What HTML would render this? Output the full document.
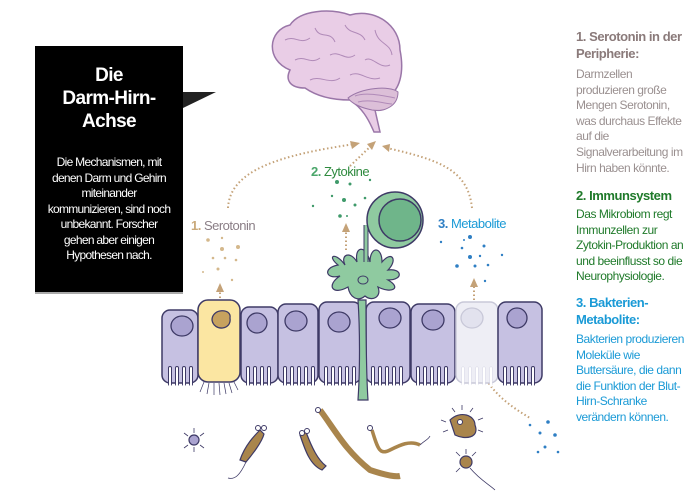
<!DOCTYPE html>
<html><head><meta charset="utf-8"><style>
html,body{margin:0;padding:0;background:#fff;}
body{width:700px;height:504px;position:relative;overflow:hidden;font-family:"Liberation Sans",sans-serif;}
.t{position:absolute;white-space:nowrap;letter-spacing:-0.5px;}
.box{position:absolute;left:35px;top:46px;width:148px;height:246px;background:#000;color:#fff;text-align:center;}
.box h1{margin:18px 0 0;font-size:19px;line-height:23px;font-weight:bold;letter-spacing:-0.6px;}
.box p{margin:22px 0 0;font-size:12px;line-height:15.5px;letter-spacing:-0.7px;}
.r{position:absolute;left:576px;font-size:12px;line-height:15.6px;letter-spacing:-0.45px;white-space:nowrap;}
.r b{font-size:13px;}
</style></head><body>
<div class="box"><h1>Die<br>Darm-Hirn-<br>Achse</h1><p>Die Mechanismen, mit<br>denen Darm und Gehirn<br>miteinander<br>kommunizieren, sind noch<br>unbekannt. Forscher<br>gehen aber einigen<br>Hypothesen nach.</p></div>
<svg style="position:absolute;left:0;top:0" width="700" height="504">
<polygon points="183,92 216,92 183,108" fill="#222"/>
<line x1="35" y1="293" x2="183" y2="293" stroke="#555" stroke-width="1"/>
<!-- brain -->
<path d="M290,70 C265,60 268,30 290,25 C300,10 330,8 350,15 C375,8 400,25 400,50 C405,75 398,90 390,95 C395,105 385,112 375,110 L380,132 L374,132 C368,118 362,108 350,100 C330,100 315,95 305,88 C290,88 285,80 290,70 Z" fill="#e9cde6" stroke="#9a76a8" stroke-width="1.5"/>
<path d="M348,98 C360,88 390,85 398,92 C398,106 385,112 372,110 C362,108 352,104 348,98Z" fill="#dcbfd8" stroke="#9a76a8" stroke-width="1"/>
<g fill="none" stroke="#b08ab8" stroke-width="1">
<path d="M285,40 C295,35 300,45 310,38 M315,28 C320,40 330,30 335,42 M345,25 C350,35 360,30 365,40 M375,30 C378,45 390,42 392,55 M295,60 C305,55 310,65 320,58 M330,55 C340,50 345,62 355,55 M365,60 C372,55 380,70 390,65 M310,80 C320,75 330,85 340,78 M350,75 C360,70 368,82 380,78 M355,96 C365,92 380,95 395,98 M358,102 C370,99 382,103 392,104"/>
</g>
<!-- arrows -->
<g fill="none" stroke="#c4a278" stroke-width="2" stroke-dasharray="1.5 2.5">
<path d="M228,208 C230,170 280,155 355,144"/>
<path d="M350,166 L372,145"/>
<path d="M472,208 C468,170 440,160 387,148"/>
<path d="M220,310 L220,290"/>
<path d="M346,250 L346,230"/>
<path d="M474,330 C474,380 500,400 530,418"/>
<path d="M474,300 L474,285"/>
</g>
<g fill="#c4a278">
<polygon points="360,143 350,141 352,149"/><polygon points="376,141 367,144 372,150"/><polygon points="382,146 390,144 389,152"/>
<polygon points="220,283 216,292 224,292"/><polygon points="346,223 342,232 350,232"/><polygon points="474,278 470,287 478,287"/>
</g>
<!-- dots -->
<g fill="#d4b88c"><circle cx="208" cy="240" r="1.8"/><circle cx="222" cy="238" r="1.2"/><circle cx="238" cy="247" r="2"/><circle cx="222" cy="249" r="2"/><circle cx="213" cy="258" r="1.3"/><circle cx="225" cy="258" r="1.3"/><circle cx="236" cy="260" r="1.3"/><circle cx="218" cy="269" r="1.5"/><circle cx="203" cy="272" r="1"/><circle cx="232" cy="280" r="1.2"/></g>
<g fill="#3f9a6a"><circle cx="337" cy="182" r="2"/><circle cx="350" cy="184" r="1.5"/><circle cx="370" cy="180" r="1.2"/><circle cx="332" cy="196" r="1.2"/><circle cx="344" cy="200" r="2"/><circle cx="355" cy="205" r="1.5"/><circle cx="313" cy="206" r="1.2"/><circle cx="340" cy="216" r="1.8"/><circle cx="347" cy="216" r="1"/><circle cx="365" cy="198" r="1.3"/></g>
<g fill="#2f7fc4"><circle cx="441" cy="242" r="1.2"/><circle cx="470" cy="237" r="2"/><circle cx="464" cy="240" r="1"/><circle cx="462" cy="248" r="1.3"/><circle cx="484" cy="246" r="1.5"/><circle cx="470" cy="257" r="2"/><circle cx="480" cy="256" r="1.2"/><circle cx="457" cy="266" r="1.8"/><circle cx="475" cy="266" r="1.5"/><circle cx="488" cy="265" r="1.3"/><circle cx="502" cy="255" r="1.2"/><circle cx="485" cy="281" r="1.2"/>
<circle cx="530" cy="425" r="1.3"/><circle cx="548" cy="422" r="1.8"/><circle cx="540" cy="433" r="1.5"/><circle cx="555" cy="435" r="1.8"/><circle cx="545" cy="447" r="1.5"/><circle cx="538" cy="452" r="1.3"/><circle cx="558" cy="452" r="1.3"/></g>
<!-- yellow cell hairs -->
<g stroke="#3e3a66" stroke-width="0.7"><path d="M204,382 L200,392 M209,383 L207,394 M214,383 L214,395 M219,383 L220,395 M224,383 L226,394 M229,383 L232,393 M234,382 L238,390"/></g>
<!-- cells -->
<g stroke="#3e3a66" stroke-width="1.5">
<rect x="162" y="310" width="36" height="73" rx="8" fill="#c6c1e2"/>
<rect x="198" y="300" width="42" height="82" rx="10" fill="#fbe6a2"/>
<rect x="241" y="307" width="37" height="76" rx="8" fill="#c6c1e2"/>
<rect x="278" y="304" width="40" height="79" rx="8" fill="#c6c1e2"/>
<rect x="319" y="302" width="42" height="81" rx="8" fill="#c6c1e2"/>
<rect x="366" y="302" width="44" height="81" rx="8" fill="#c6c1e2"/>
<rect x="411" y="304" width="44" height="79" rx="8" fill="#c6c1e2"/>
<rect x="456" y="302" width="42" height="81" rx="8" fill="#eeeef5" stroke="#c8c8d8"/>
<rect x="498" y="302" width="44" height="81" rx="8" fill="#c6c1e2"/>
</g>
<g fill="#c6c1e2"><rect x="163" y="365" width="34" height="12"/><rect x="242" y="365" width="35" height="12"/><rect x="279" y="365" width="38" height="12"/><rect x="320" y="365" width="40" height="12"/><rect x="367" y="365" width="42" height="12"/><rect x="412" y="365" width="42" height="12"/><rect x="499" y="365" width="42" height="12"/></g>
<g stroke-linecap="round">
<g stroke="#3e3a66" stroke-width="4">
<path d="M170,368V384M177,368V384M184,368V384M191,368V384 M248,368V384M255,368V384M262,368V384M269,368V384 M285,368V384M292,368V384M299,368V384M306,368V384M313,368V384 M326,368V384M333,368V384M340,368V384M347,368V384M354,368V384 M373,368V384M380,368V384M387,368V384M394,368V384M401,368V384 M418,368V384M425,368V384M432,368V384M439,368V384M446,368V384 M505,368V384M512,368V384M519,368V384M526,368V384M533,368V384"/>
</g>
<g stroke="#d8d8e6" stroke-width="3"><path d="M463,368V384M470,368V384M477,368V384M484,368V384M491,368V384"/></g>
<g stroke="#fff" stroke-width="2">
<path d="M170,368V386M177,368V386M184,368V386M191,368V386 M248,368V386M255,368V386M262,368V386M269,368V386 M285,368V386M292,368V386M299,368V386M306,368V386M313,368V386 M326,368V386M333,368V386M340,368V386M347,368V386M354,368V386 M373,368V386M380,368V386M387,368V386M394,368V386M401,368V386 M418,368V386M425,368V386M432,368V386M439,368V386M446,368V386 M505,368V386M512,368V386M519,368V386M526,368V386M533,368V386 M463,368V386M470,368V386M477,368V386M484,368V386M491,368V386"/>
</g>
</g>
<g fill="#aaa3d0" stroke="#3e3a66" stroke-width="1.3">
<ellipse cx="182" cy="326" rx="11" ry="10"/><ellipse cx="257" cy="323" rx="10" ry="10"/><ellipse cx="296" cy="321" rx="11" ry="10"/><ellipse cx="339" cy="322" rx="11" ry="10"/><ellipse cx="390" cy="318" rx="11" ry="10"/><ellipse cx="433" cy="320" rx="11" ry="10"/><ellipse cx="517" cy="318" rx="10" ry="10"/>
<ellipse cx="472" cy="318" rx="11" ry="10" fill="#e2e2ee" stroke="#c8c8d8"/>
</g>
<path d="M212,320 C212,308 232,308 230,318 C232,330 214,332 212,320Z" fill="#c7a25e" stroke="#3e3a66" stroke-width="1.3"/>
<!-- green -->
<path d="M358,300 C360,330 360,370 358,400 L368,400 C366,370 366,330 366,300Z" fill="#8fcaa0" stroke="#3e3a66" stroke-width="1.2"/>
<path d="M345,265 C336,252 326,255 338,265 C322,268 326,280 340,276 C326,285 332,296 348,287 C350,298 358,302 365,296 C372,302 382,297 378,287 C392,294 402,288 388,280 C404,280 402,268 388,270 C398,260 392,250 382,262 C382,246 370,246 370,262 C366,244 354,246 357,262 C350,250 340,255 345,265Z" fill="#8fcaa0" stroke="#3e3a66" stroke-width="1.2"/>
<ellipse cx="363" cy="280" rx="5" ry="4" fill="none" stroke="#3e3a66"/>
<path d="M366,262 L366,225" stroke="#3e3a66" stroke-width="5"/><path d="M366,262 L366,225" stroke="#8fcaa0" stroke-width="3"/>
<circle cx="395" cy="220" r="28" fill="#8fcaa0" stroke="#3e3a66" stroke-width="1.5"/>
<circle cx="400" cy="220" r="21" fill="#6fb58a" stroke="#3e3a66" stroke-width="1.5"/>
<!-- bacteria -->
<g stroke="#3e3a66" stroke-width="1.2" fill="#a9854c">
<circle cx="194" cy="440" r="5" fill="#aaa3d0"/>
<path d="M240,460 C245,445 255,435 260,430 L264,434 C262,442 252,455 246,462Z"/>
<path d="M300,435 C305,450 310,465 322,470 L326,466 C318,460 312,448 306,432Z"/>
<path d="M320,410 C335,430 345,450 370,470 C385,475 395,477 400,476" fill="none" stroke="#a9854c" stroke-width="6"/>
<path d="M372,430 C378,450 380,455 390,450 C400,445 410,440 420,445" fill="none" stroke="#a9854c" stroke-width="3.5"/>
<path d="M450,420 C460,410 475,415 475,425 C480,438 465,440 455,435Z"/>
<circle cx="466" cy="462" r="6" fill="#a9854c"/>
</g>
<g fill="#fff" stroke="#3e3a66" stroke-width="1"><circle cx="258" cy="428" r="2.5"/><circle cx="264" cy="428" r="2.5"/><circle cx="302" cy="433" r="2.5"/><circle cx="307" cy="431" r="2.5"/><circle cx="318" cy="410" r="2.5"/><circle cx="370" cy="428" r="2.5"/><circle cx="460" cy="422" r="2.5"/></g>
<g fill="none" stroke="#3e3a66" stroke-width="0.8"><path d="M246,462 C240,475 235,480 228,478"/><path d="M420,445 C425,440 428,440 430,436"/><path d="M470,468 C480,480 490,485 495,490"/>
<path d="M188,436l-4-3M200,436l4-3M188,445l-4 3M200,445l4 3M194,433v-5M194,447v5 M455,412l-3-4M462,410l0-5M470,412l3-4M478,420l5-2M478,430l5 2M448,430l-5 2M446,422l-5-2 M460,456l-4-4M472,456l4-4M460,468l-4 4M466,454v-5"/></g>
</svg>
<div class="t" style="left:191px;top:218px;font-size:13px;color:#8a7e86"><span style="color:#c9a97a;font-weight:bold">1.</span> Serotonin</div>
<div class="t" style="left:311px;top:164px;font-size:13px;color:#2e8a3e"><b style="color:#4aa66a">2.</b> Zytokine</div>
<div class="t" style="left:438px;top:216px;font-size:13px;color:#1a9ad6"><b style="color:#2f7fc4">3.</b> Metabolite</div>
<div class="r" style="top:29px;color:#8a7a7a"><b>1. Serotonin in der<br>Peripherie:</b></div>
<div class="r" style="top:67px;color:#9a9090">Darmzellen<br>produzieren große<br>Mengen Serotonin,<br>was durchaus Effekte<br>auf die<br>Signalverarbeitung im<br>Hirn haben könnte.</div>
<div class="r" style="top:188px;color:#1f7a2a"><b>2. Immunsystem</b></div>
<div class="r" style="top:207px;color:#1f7a2a">Das Mikrobiom regt<br>Immunzellen zur<br>Zytokin-Produktion an<br>und beeinflusst so die<br>Neurophysiologie.</div>
<div class="r" style="top:295px;color:#1a9ad6"><b>3. Bakterien-<br>Metabolite:</b></div>
<div class="r" style="top:332px;color:#1a9ad6">Bakterien produzieren<br>Moleküle wie<br>Buttersäure, die dann<br>die Funktion der Blut-<br>Hirn-Schranke<br>verändern können.</div>
</body></html>
